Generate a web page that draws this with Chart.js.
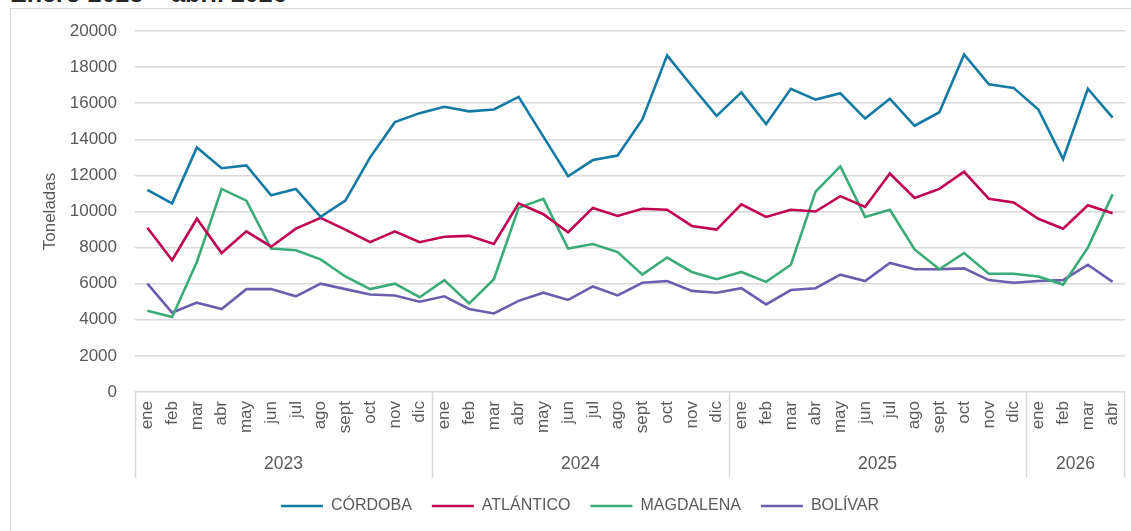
<!DOCTYPE html>
<html>
<head>
<meta charset="utf-8">
<script src="https://cdn.jsdelivr.net/npm/chart.js@4/dist/chart.umd.min.js"></script>
<style>
  html, body { margin: 0; padding: 0; background: #fff; overflow: hidden; }
  #wrap { position: relative; width: 1131px; height: 531px; overflow: hidden; }
  #frame { position: absolute; left: 10px; top: 8px; width: 1200px; height: 600px; border: 1.5px solid #d9d9d9; }
  #title { position: absolute; left: 10px; top: -19px; font: bold 25px "Liberation Sans", Arial, sans-serif; line-height: 25px; color: #262626; white-space: nowrap; }
  canvas { position: absolute; left: 0; top: 0; }
</style>
</head>
<body>
<div id="wrap">
  <div id="title">Enero 2023 – abril 2026</div>
  <div id="frame"></div>
  <canvas id="chart" width="1142" height="531"></canvas>
</div>
<script>
// meses y años del eje
const months = ['ene', 'feb', 'mar', 'abr', 'may', 'jun', 'jul', 'ago', 'sept', 'oct', 'nov', 'dic'];
const years = ['2023', '2024', '2025', '2026'];
const monthsPerYear = [12, 12, 12, 4];

// toneladas por departamento
const cordoba = [11200, 10450, 13550, 12400, 12550, 10900, 11250, 9700, 10600, 13000, 14950, 15450,
  15800, 15550, 15650, 16350, 14150, 11950, 12850, 13100, 15100, 18650, 16950, 15300,
  16600, 14850, 16800, 16200, 16550, 15150, 16250, 14750, 15500, 18700, 17050, 16850,
  15650, 12900, 16800, 15200];
const atlantico = [9100, 7300, 9600, 7700, 8900, 8050, 9050, 9650, 9000, 8300, 8900, 8300,
  8600, 8650, 8200, 10450, 9850, 8850, 10200, 9750, 10150, 10100, 9200, 9000,
  10400, 9700, 10100, 10000, 10850, 10250, 12100, 10750, 11250, 12200, 10700, 10500,
  9600, 9050, 10350, 9900];
const magdalena = [4500, 4150, 7200, 11250, 10600, 7950, 7850, 7350, 6400, 5700, 6000, 5250,
  6200, 4900, 6250, 10200, 10700, 7950, 8200, 7750, 6500, 7450, 6650, 6250,
  6650, 6100, 7050, 11100, 12500, 9700, 10100, 7900, 6800, 7700, 6550, 6550,
  6400, 5950, 8000, 10950];
const bolivar = [6000, 4400, 4950, 4600, 5700, 5700, 5300, 6000, 5700, 5400, 5350, 5000,
  5300, 4600, 4350, 5050, 5500, 5100, 5850, 5350, 6050, 6150, 5600, 5500,
  5750, 4850, 5650, 5750, 6500, 6150, 7150, 6800, 6800, 6850, 6200, 6050,
  6150, 6200, 7050, 6100];

const labels = [];
monthsPerYear.forEach(n => { for (let i = 0; i < n; i++) labels.push(months[i]); });

const FONT = '"Liberation Sans", Arial, sans-serif';
const TXT = '#595959';
const GRID = '#d9d9d9';

// fila de años debajo de los meses, con separadores
const yearRow = {
  id: 'yearRow',
  afterDraw(chart) {
    const x = chart.scales.x;
    const ctx = chart.ctx;
    const top = x.top;
    const bottom = x.bottom;
    ctx.save();
    ctx.strokeStyle = GRID;
    ctx.lineWidth = 1.5;
    ctx.fillStyle = TXT;
    ctx.font = '17.5px ' + FONT;
    ctx.textAlign = 'center';
    ctx.textBaseline = 'middle';
    let start = 0;
    years.forEach((yr, i) => {
      const end = start + monthsPerYear[i];
      const x0 = x.getPixelForValue(start - 0.5);
      const x1 = x.getPixelForValue(end - 0.5);
      ctx.beginPath();
      ctx.moveTo(Math.round(x0) + 0.5, top);
      ctx.lineTo(Math.round(x0) + 0.5, bottom);
      if (i === years.length - 1) {
        ctx.moveTo(Math.round(x1) - 0.5, top);
        ctx.lineTo(Math.round(x1) - 0.5, bottom);
      }
      ctx.stroke();
      ctx.fillText(yr, (x0 + x1) / 2, top + 72);
      start = end;
    });
    ctx.restore();
  }
};

function serie(label, data, color) {
  return {
    label: label,
    data: data,
    borderColor: color,
    backgroundColor: color,
    borderWidth: 2.6,
    pointRadius: 0,
    tension: 0,
    fill: false
  };
}

new Chart(document.getElementById('chart'), {
  type: 'line',
  data: {
    labels: labels,
    datasets: [
      serie('CÓRDOBA', cordoba, '#157aa3'),
      serie('ATLÁNTICO', atlantico, '#c00050'),
      serie('MAGDALENA', magdalena, '#3aab76'),
      serie('BOLÍVAR', bolivar, '#6a5ead')
    ]
  },
  options: {
    responsive: false,
    animation: false,
    layout: { padding: { left: 18, right: 0, top: 31, bottom: 7 } },
    plugins: {
      tooltip: { enabled: false },
      legend: {
        position: 'bottom',
        labels: {
          usePointStyle: true,
          pointStyle: 'line',
          pointStyleWidth: 42,
          padding: 20,
          color: TXT,
          font: { family: FONT, size: 16 }
        }
      }
    },
    scales: {
      x: {
        offset: true,
        grid: { display: false, drawTicks: false },
        border: { display: false },
        ticks: {
          autoSkip: false,
          minRotation: 90,
          maxRotation: 90,
          padding: 9,
          color: TXT,
          font: { family: FONT, size: 17 }
        },
        afterFit(scale) { scale.height = 86; }
      },
      y: {
        min: 0,
        max: 20000,
        grid: { color: GRID, lineWidth: 1.4, drawTicks: false },
        border: { display: false },
        ticks: {
          stepSize: 2000,
          padding: 18,
          color: TXT,
          font: { family: FONT, size: 17 },
          callback: v => String(v)
        },
        title: {
          display: true,
          text: 'Toneladas',
          color: TXT,
          padding: { top: 22, bottom: 4 },
          font: { family: FONT, size: 17 }
        },
        afterFit(scale) { scale.width = 117; }
      }
    }
  },
  plugins: [yearRow]
});
</script>
</body>
</html>
